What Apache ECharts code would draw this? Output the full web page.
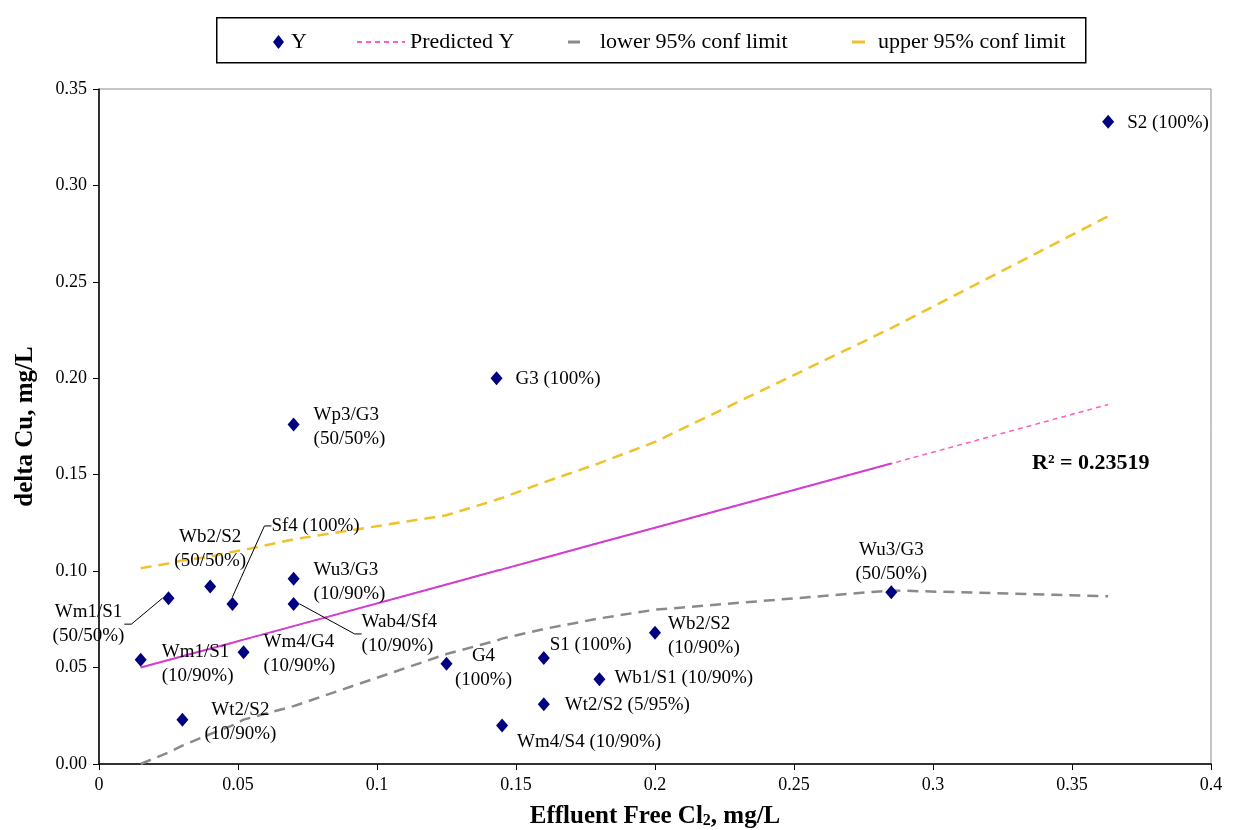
<!DOCTYPE html>
<html>
<head>
<meta charset="utf-8">
<script src="https://cdn.jsdelivr.net/npm/echarts@6/dist/echarts.min.js"></script>
<style>
  html, body { margin: 0; padding: 0; background: #ffffff; }
  #chart { width: 1233px; height: 830px; }
</style>
</head>
<body>
<div id="chart"></div>
<script>
// Measured samples: effluent free chlorine vs. copper change
const pointNames = [
  'S2 (100%)', 'G3 (100%)', 'Wp3/G3\n(50/50%)', 'Wb2/S2\n(50/50%)', 'Sf4 (100%)',
  'Wm1/S1\n(50/50%)', 'Wu3/G3\n(10/90%)', 'Wab4/Sf4\n(10/90%)', 'Wm1/S1\n(10/90%)',
  'Wm4/G4\n(10/90%)', 'Wt2/S2\n(10/90%)', 'G4\n(100%)', 'S1 (100%)', 'Wb2/S2\n(10/90%)',
  'Wb1/S1 (10/90%)', 'Wt2/S2 (5/95%)', 'Wm4/S4 (10/90%)', 'Wu3/G3\n(50/50%)'
];
const pointX = [0.363, 0.143, 0.070, 0.040, 0.048, 0.025, 0.070, 0.070, 0.015,
                0.052, 0.030, 0.125, 0.160, 0.200, 0.180, 0.160, 0.145, 0.285];
const pointY = [0.333, 0.200, 0.176, 0.092, 0.083, 0.086, 0.096, 0.083, 0.054,
                0.058, 0.023, 0.052, 0.055, 0.068, 0.044, 0.031, 0.020, 0.089];

// Regression fit and its 95% confidence band at the sample x values
const fitX       = [0.015, 0.025, 0.030, 0.040, 0.048, 0.052, 0.070, 0.125, 0.143, 0.145, 0.160, 0.180, 0.200, 0.285, 0.363];
const predictedY = [0.0500, 0.0539, 0.0559, 0.0598, 0.0629, 0.0645, 0.0715, 0.0931, 0.1002, 0.1009, 0.1068, 0.1147, 0.1225, 0.1558, 0.1864];
const lowerLimit = [0.000, 0.006, 0.0095, 0.0155, 0.020, 0.023, 0.030, 0.057, 0.064, 0.065, 0.070, 0.0755, 0.080, 0.090, 0.087];
const upperLimit = [0.1015, 0.104, 0.1055, 0.1075, 0.110, 0.111, 0.1165, 0.129, 0.137, 0.138, 0.146, 0.156, 0.167, 0.226, 0.284];
const trendEndX = 0.285;
const rSquared = '0.23519';

const xTickLabels = ['0', '0.05', '0.1', '0.15', '0.2', '0.25', '0.3', '0.35', '0.4'];
const yTickLabels = ['0.00', '0.05', '0.10', '0.15', '0.20', '0.25', '0.30', '0.35'];

// Label placement for each sample: [dx, dy, align, leaderLine]
const labelPlacement = [
  [19, 1, 'left', false], [19, 1, 'left', false], [20, 2, 'left', false], [0, -38, 'center', false],
  [39, -78, 'left', true], [-80, 26, 'center', true], [20, 3, 'left', false], [68, 30, 'left', true],
  [21, 4, 'left', false], [20, 2, 'left', false], [58, 2, 'center', false], [37, 4, 'center', false],
  [6, -13, 'left', false], [13, 3, 'left', false], [15, -1, 'left', false], [21, 1, 'left', false],
  [15, 17, 'left', false], [0, -30, 'center', false]
];

const serif = '"Liberation Serif", "Times New Roman", serif';

const scatterData = pointNames.map((name, i) => {
  const p = labelPlacement[i];
  return {
    name: name,
    value: [pointX[i], pointY[i]],
    label: { position: 'inside', offset: [p[0], p[1]], align: p[2], verticalAlign: 'middle' },
    labelLine: { show: p[3], length2: 7, lineStyle: { color: '#000', width: 1 } }
  };
});

const zip = (xs, ys) => xs.map((x, i) => [x, ys[i]]);
const fitLine = zip(fitX, predictedY);
const trendLine = fitLine.filter(d => d[0] <= trendEndX);

const legendText = { fontFamily: serif, fontSize: 22, color: '#000' };
const withPad = (left) => Object.assign({ padding: [0, 0, 0, left] }, legendText);

const chart = echarts.init(document.getElementById('chart'), null, { renderer: 'canvas' });
chart.setOption({
  animation: false,
  backgroundColor: '#ffffff',
  grid: {
    left: 99, right: 22, top: 89, bottom: 66,
    outerBoundsMode: 'none', containLabel: false,
    show: true, borderColor: '#8c8c8c', borderWidth: 1, backgroundColor: 'transparent'
  },
  legend: [
    { data: [{ name: 'Y', icon: 'diamond', itemStyle: { opacity: 1 } }],
      left: 268, top: 26, itemWidth: 11, itemHeight: 14,
      textStyle: withPad(2) },
    { data: [{ name: 'Predicted Y', itemStyle: { opacity: 0 } }],
      left: 351, top: 26, itemWidth: 48, itemHeight: 12,
      textStyle: withPad(0) },
    { data: [{ name: 'lower 95% conf limit', icon: 'rect' }],
      left: 563, top: 26, itemWidth: 12, itemHeight: 3,
      textStyle: withPad(15) },
    { data: [{ name: 'upper 95% conf limit', icon: 'rect' }],
      left: 847, top: 26, itemWidth: 13, itemHeight: 3,
      textStyle: withPad(8) }
  ],
  graphic: [
    { type: 'rect', left: 216, top: 17, z: 100, silent: true,
      shape: { width: 869, height: 45 },
      style: { fill: 'transparent', stroke: '#000', lineWidth: 1.5 } },
    { type: 'text', left: 1032, top: 452, z: 100, silent: true,
      style: { text: 'R\u00b2 = ' + rSquared, fontFamily: serif, fontSize: 22, fontWeight: 'bold', fill: '#000' } }
  ],
  xAxis: {
    type: 'value', min: 0, max: 0.4, interval: 0.05,
    name: 'Effluent Free Cl{sub|2}, mg/L', nameLocation: 'middle', nameGap: 40,
    nameTextStyle: {
      fontFamily: serif, fontSize: 25, fontWeight: 'bold', color: '#000',
      rich: { sub: { fontFamily: serif, fontSize: 16, fontWeight: 'bold', verticalAlign: 'bottom', padding: [9, 0, 0, 0] } }
    },
    axisLine: { show: true, onZero: false, lineStyle: { color: '#000', width: 1.5 } },
    axisTick: { show: true, length: 6, lineStyle: { color: '#000', width: 1 } },
    axisLabel: {
      fontFamily: serif, fontSize: 18, color: '#000', margin: 12,
      formatter: v => xTickLabels[Math.round(v / 0.05)]
    },
    splitLine: { show: false }
  },
  yAxis: {
    type: 'value', min: 0, max: 0.35, interval: 0.05,
    name: 'delta Cu, mg/L', nameLocation: 'middle', nameGap: 61, nameRotate: 90,
    nameTextStyle: { fontFamily: serif, fontSize: 25, fontWeight: 'bold', color: '#000' },
    axisLine: { show: true, onZero: false, lineStyle: { color: '#000', width: 1.5 } },
    axisTick: { show: true, length: 6, lineStyle: { color: '#000', width: 1 } },
    axisLabel: {
      fontFamily: serif, fontSize: 18, color: '#000', margin: 12,
      formatter: v => yTickLabels[Math.round(v / 0.05)]
    },
    splitLine: { show: false }
  },
  series: [
    {
      name: 'lower 95% conf limit', type: 'line', data: zip(fitX, lowerLimit),
      showSymbol: false, symbol: 'none', z: 2,
      itemStyle: { color: '#8a8a8a' },
      lineStyle: { color: '#8a8a8a', width: 2.5, type: [11, 7] }
    },
    {
      name: 'upper 95% conf limit', type: 'line', data: zip(fitX, upperLimit),
      showSymbol: false, symbol: 'none', z: 2,
      itemStyle: { color: '#f0c22a' },
      lineStyle: { color: '#f0c22a', width: 2.5, type: [11, 7] }
    },
    {
      name: 'Predicted Y', type: 'line', data: fitLine,
      showSymbol: false, symbol: 'none', z: 3,
      itemStyle: { color: '#ff5cc8' },
      lineStyle: { color: '#ff5cc8', width: 1.5, type: [5, 4] }
    },
    {
      name: 'trend', type: 'line', data: trendLine,
      showSymbol: false, symbol: 'none', z: 4, silent: true,
      lineStyle: { color: '#d23fd0', width: 2 }
    },
    {
      name: 'Y', type: 'scatter', data: scatterData, z: 5,
      symbol: 'diamond', symbolSize: [12, 14],
      itemStyle: { color: '#000080', opacity: 1 },
      label: {
        show: true, formatter: p => p.name,
        fontFamily: serif, fontSize: 19, color: '#000', lineHeight: 24
      }
    }
  ]
});
</script>
</body>
</html>
